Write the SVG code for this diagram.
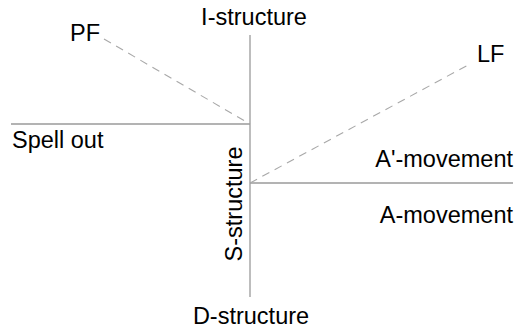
<svg xmlns="http://www.w3.org/2000/svg" width="518" height="330" viewBox="0 0 518 330">
<style>
text{font-family:"Liberation Sans",Arial,sans-serif;font-size:23.5px;fill:#000}
.solid{stroke:#9a9a9a;stroke-width:1.3;fill:none}
.dash{stroke:#a8a8a8;stroke-width:1.1;stroke-dasharray:8,6;fill:none}
</style>
<rect width="518" height="330" fill="#fff"/>
<g id="connectors">
<line class="solid" x1="250" y1="35" x2="250" y2="297"/>
<line class="solid" x1="11" y1="124" x2="250" y2="124"/>
<line class="solid" x1="250" y1="183" x2="513" y2="183"/>
<line class="dash" x1="104" y1="39" x2="250" y2="124"/>
<line class="dash" x1="250" y1="183" x2="468" y2="65"/>
</g>
<g id="i-structure"><text x="254" y="25" text-anchor="middle">I-structure</text></g>
<g id="pf"><text x="70" y="41">PF</text></g>
<g id="lf"><text x="477" y="62">LF</text></g>
<g id="spell-out"><text x="12" y="148">Spell out</text></g>
<g id="a-bar-movement"><text x="513" y="167" text-anchor="end">A'-movement</text></g>
<g id="a-movement"><text x="513" y="223" text-anchor="end">A-movement</text></g>
<g id="s-structure"><text transform="translate(242,204) rotate(-90)" text-anchor="middle">S-structure</text></g>
<g id="d-structure"><text x="251" y="324" text-anchor="middle">D-structure</text></g>
</svg>
